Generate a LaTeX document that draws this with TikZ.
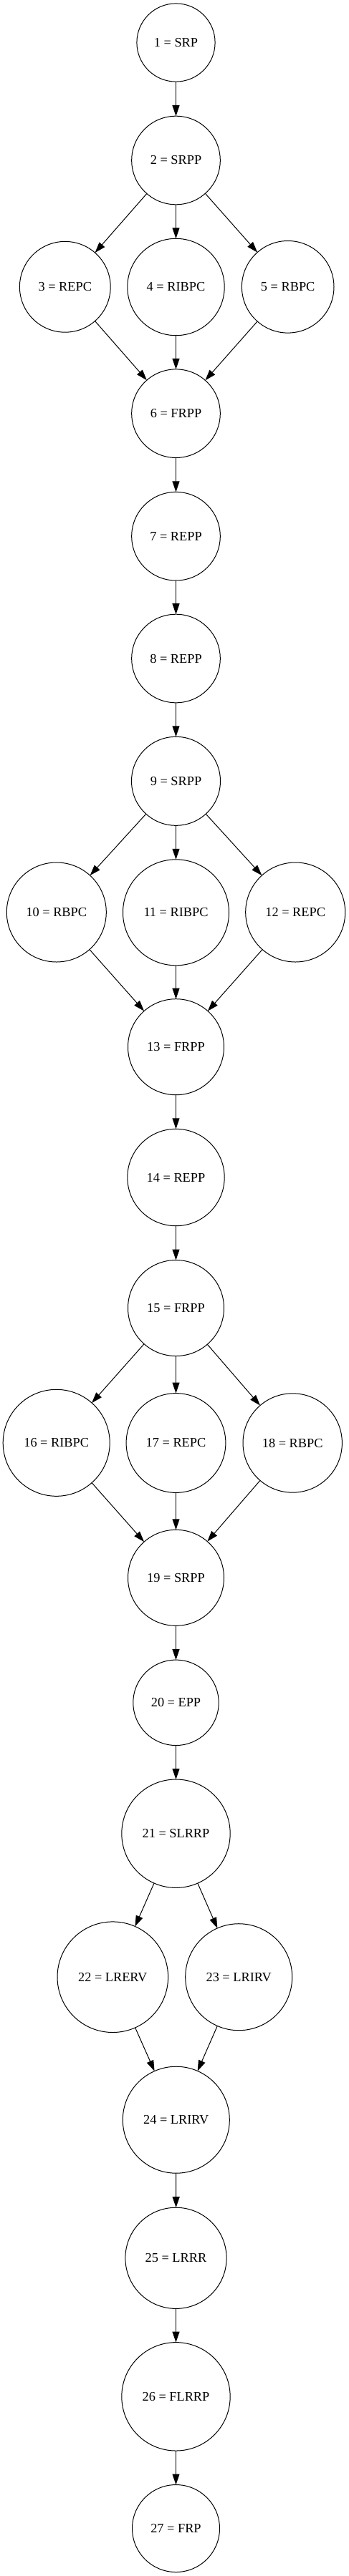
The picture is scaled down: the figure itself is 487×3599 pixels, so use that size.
\documentclass[tikz,border=0pt]{standalone}
\usepackage{fontspec}
\setmainfont{Liberation Serif}
\usetikzlibrary{arrows.meta}
\begin{document}
\begin{tikzpicture}[x=1pt,y=-1pt,
  st/.style={circle,draw,line width=1pt,inner sep=0pt,outer sep=0pt,font=\fontsize{18.3}{22}\selectfont},
  edge/.style={line width=1pt,-{Triangle[length=15pt,width=10pt]}}]
\useasboundingbox (0,0) rectangle (487,3599);
\node[st,minimum size=109.2pt] (n1) at (245.5,59.5) {1 = SRP};
\node[st,minimum size=123.6pt] (n2) at (245.5,224) {2 = SRPP};
\node[st,minimum size=126.8pt] (n3) at (90.8,400.8) {3 = REPC};
\node[st,minimum size=135.4pt] (n4) at (245.5,401) {4 = RIBPC};
\node[st,minimum size=128.6pt] (n5) at (401.7,400.8) {5 = RBPC};
\node[st,minimum size=123.6pt] (n6) at (245.5,577.7) {6 = FRPP};
\node[st,minimum size=123.6pt] (n7) at (245.5,749.2) {7 = REPP};
\node[st,minimum size=123.6pt] (n8) at (245.5,920) {8 = REPP};
\node[st,minimum size=124pt] (n9) at (245.5,1091.3) {9 = SRPP};
\node[st,minimum size=139pt] (n10) at (78.8,1274.5) {10 = RBPC};
\node[st,minimum size=148pt] (n11) at (245.5,1274.8) {11 = RIBPC};
\node[st,minimum size=139pt] (n12) at (412.2,1274.5) {12 = REPC};
\node[st,minimum size=134pt] (n13) at (245.5,1462.7) {13 = FRPP};
\node[st,minimum size=135.4pt] (n14) at (245.5,1645) {14 = REPP};
\node[st,minimum size=134pt] (n15) at (245.5,1827.5) {15 = FRPP};
\node[st,minimum size=149pt] (n16) at (78.7,2015.8) {16 = RIBPC};
\node[st,minimum size=138.8pt] (n17) at (245.5,2016) {17 = REPC};
\node[st,minimum size=138.4pt] (n18) at (408.2,2016) {18 = RBPC};
\node[st,minimum size=134pt] (n19) at (245.5,2204.3) {19 = SRPP};
\node[st,minimum size=119.4pt] (n20) at (245.5,2378.8) {20 = EPP};
\node[st,minimum size=151.4pt] (n21) at (245.5,2561.7) {21 = SLRRP};
\node[st,minimum size=154.6pt] (n22) at (157.3,2762.2) {22 = LRERV};
\node[st,minimum size=149pt] (n23) at (333.2,2762.2) {23 = LRIRV};
\node[st,minimum size=149pt] (n24) at (245.8,2961.7) {24 = LRIRV};
\node[st,minimum size=141.2pt] (n25) at (245.5,3154.8) {25 = LRRR};
\node[st,minimum size=151.4pt] (n26) at (245.5,3348.3) {26 = FLRRP};
\node[st,minimum size=122pt] (n27) at (245.5,3532.5) {27 = FRP};
\draw[edge] (n1) -- (n2);
\draw[edge] (n2) -- (n3);
\draw[edge] (n2) -- (n4);
\draw[edge] (n2) -- (n5);
\draw[edge] (n3) -- (n6);
\draw[edge] (n4) -- (n6);
\draw[edge] (n5) -- (n6);
\draw[edge] (n6) -- (n7);
\draw[edge] (n7) -- (n8);
\draw[edge] (n8) -- (n9);
\draw[edge] (n9) -- (n10);
\draw[edge] (n9) -- (n11);
\draw[edge] (n9) -- (n12);
\draw[edge] (n10) -- (n13);
\draw[edge] (n11) -- (n13);
\draw[edge] (n12) -- (n13);
\draw[edge] (n13) -- (n14);
\draw[edge] (n14) -- (n15);
\draw[edge] (n15) -- (n16);
\draw[edge] (n15) -- (n17);
\draw[edge] (n15) -- (n18);
\draw[edge] (n16) -- (n19);
\draw[edge] (n17) -- (n19);
\draw[edge] (n18) -- (n19);
\draw[edge] (n19) -- (n20);
\draw[edge] (n20) -- (n21);
\draw[edge] (n21) -- (n22);
\draw[edge] (n21) -- (n23);
\draw[edge] (n22) -- (n24);
\draw[edge] (n23) -- (n24);
\draw[edge] (n24) -- (n25);
\draw[edge] (n25) -- (n26);
\draw[edge] (n26) -- (n27);
\end{tikzpicture}
\end{document}
